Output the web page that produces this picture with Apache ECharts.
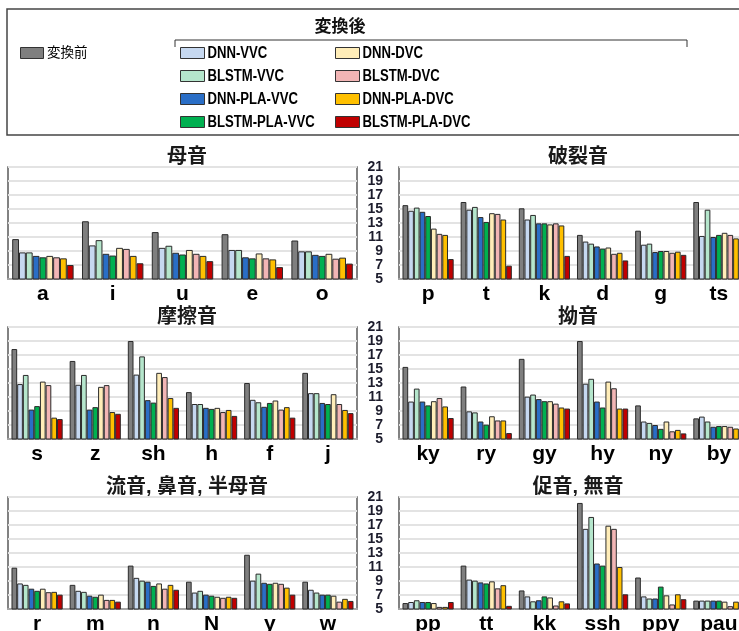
<!DOCTYPE html>
<html>
<head>
<meta charset="utf-8">
<script src="https://cdn.jsdelivr.net/npm/echarts@6/dist/echarts.min.js"></script>
<style>
  html, body { margin: 0; padding: 0; background: #ffffff; }
  #chart { width: 739px; height: 631px; }
</style>
</head>
<body>
<div id="chart"></div>
<script>
// Systems compared (row order of every value table below)
const seriesNames = ['変換前', 'DNN-VVC', 'BLSTM-VVC', 'DNN-PLA-VVC', 'BLSTM-PLA-VVC',
                     'DNN-DVC', 'BLSTM-DVC', 'DNN-PLA-DVC', 'BLSTM-PLA-DVC'];

// Y axis ticks (shared by all panels)
const yTicks = [5, 7, 9, 11, 13, 15, 17, 19, 21];

// 母音
const vowelCats = ['a', 'i', 'u', 'e', 'o'];
const vowelValues = [
  [10.7, 13.25, 11.7, 11.4, 10.5],
  [8.8, 9.8, 9.45, 9.15, 8.95],
  [8.8, 10.55, 9.75, 9.15, 8.95],
  [8.3, 8.6, 8.75, 8.1, 8.45],
  [8.1, 8.35, 8.5, 7.95, 8.3],
  [8.3, 9.45, 9.15, 8.65, 8.6],
  [8.1, 9.3, 8.6, 7.95, 7.9],
  [7.95, 8.3, 8.3, 7.8, 8.05],
  [7.0, 7.25, 7.55, 6.7, 7.2]
];

// 破裂音
const plosiveCats = ['p', 't', 'k', 'd', 'g', 'ts'];
const plosiveValues = [
  [15.55, 16.0, 15.1, 11.3, 11.9, 16.0],
  [14.75, 14.9, 13.5, 10.35, 9.9, 11.15],
  [15.2, 15.3, 14.15, 10.05, 10.05, 14.9],
  [14.6, 13.85, 12.95, 9.65, 8.85, 11.0],
  [14.0, 13.15, 12.95, 9.35, 9.0, 11.3],
  [12.2, 14.4, 12.8, 9.5, 9.0, 11.6],
  [11.45, 14.3, 12.95, 8.6, 8.75, 11.3],
  [11.3, 13.5, 12.65, 8.75, 8.9, 10.8],
  [7.85, 6.9, 8.3, 7.65, 8.45, 8.0]
];

// 摩擦音
const fricativeCats = ['s', 'z', 'sh', 'h', 'f', 'j'];
const fricativeValues = [
  [17.85, 16.15, 19.0, 11.7, 13.0, 14.45],
  [12.85, 12.75, 14.2, 10.0, 10.6, 11.55],
  [14.15, 14.15, 16.8, 10.0, 10.25, 11.55],
  [9.2, 9.2, 10.55, 9.45, 9.6, 10.15],
  [9.7, 9.55, 10.2, 9.3, 10.15, 10.0],
  [13.2, 12.45, 14.45, 9.45, 10.5, 11.4],
  [12.7, 12.7, 13.85, 8.85, 9.2, 10.0],
  [8.05, 8.85, 10.85, 9.15, 9.55, 9.15],
  [7.85, 8.6, 9.45, 8.3, 8.05, 8.7]
];

// 拗音
const palatalCats = ['ky', 'ry', 'gy', 'hy', 'ny', 'by'];
const palatalValues = [
  [15.3, 12.5, 16.45, 19.0, 9.8, 7.95],
  [10.35, 8.95, 11.05, 12.9, 7.5, 8.2],
  [12.2, 8.8, 11.35, 13.6, 7.3, 7.5],
  [10.35, 7.5, 10.7, 10.35, 7.0, 6.75],
  [9.8, 7.05, 10.4, 9.5, 6.45, 6.85],
  [10.4, 8.25, 10.4, 13.2, 7.5, 6.85],
  [10.85, 7.65, 10.05, 12.25, 6.1, 6.75],
  [9.65, 7.65, 9.5, 9.35, 6.3, 6.5],
  [8.0, 5.85, 9.35, 9.35, 5.8, 6.3]
];

// 流音, 鼻音, 半母音
const sonorantCats = ['r', 'm', 'n', 'N', 'y', 'w'];
const sonorantValues = [
  [10.9, 8.45, 11.2, 8.9, 12.75, 8.9],
  [8.65, 7.6, 9.45, 7.35, 9.05, 7.75],
  [8.45, 7.45, 9.05, 7.6, 10.05, 7.35],
  [7.9, 6.9, 8.9, 7.05, 8.75, 7.05],
  [7.6, 6.75, 8.3, 6.9, 8.6, 7.05],
  [7.9, 7.05, 8.65, 6.75, 8.75, 6.9],
  [7.4, 6.3, 7.9, 6.6, 8.6, 6.05],
  [7.45, 6.3, 8.45, 6.75, 8.05, 6.45],
  [7.05, 6.05, 7.75, 6.6, 7.05, 6.15]
];

// 促音, 無音
const geminateCats = ['pp', 'tt', 'kk', 'ssh', 'ppy', 'pau'];
const geminateValues = [
  [5.85, 11.2, 7.65, 20.15, 9.5, 6.2],
  [6.0, 9.2, 6.8, 16.45, 6.8, 6.2],
  [6.25, 9.05, 6.1, 18.15, 6.5, 6.2],
  [6.0, 8.8, 6.25, 11.5, 6.5, 6.2],
  [6.0, 8.65, 6.8, 11.2, 8.2, 6.2],
  [5.85, 8.95, 6.65, 16.9, 6.95, 6.05],
  [5.3, 7.95, 5.5, 16.45, 5.65, 5.4],
  [5.3, 8.4, 6.1, 11.0, 7.1, 6.05],
  [6.0, 5.45, 5.8, 7.1, 6.4, 5.9]
];

// ---- styling / layout ----
const seriesColors = ['#7f7f7f', '#c6d8f0', '#b5e6cc', '#2a6ec6', '#00b050',
                      '#ffedb8', '#f2b5b5', '#ffc000', '#c00000'];

// Right-hand panels run slightly past the canvas edge
const PW = 348, PH = 112;
const panels = [
  { title: '母音', cats: vowelCats, values: vowelValues, left: 8, top: 167, labels: false },
  { title: '破裂音', cats: plosiveCats, values: plosiveValues, left: 399, top: 167, labels: true },
  { title: '摩擦音', cats: fricativeCats, values: fricativeValues, left: 8, top: 327, labels: false },
  { title: '拗音', cats: palatalCats, values: palatalValues, left: 399, top: 327, labels: true },
  { title: '流音, 鼻音, 半母音', cats: sonorantCats, values: sonorantValues, left: 8, top: 497, labels: false },
  { title: '促音, 無音', cats: geminateCats, values: geminateValues, left: 399, top: 497, labels: true }
];

const latin = '"Liberation Sans", Arial, sans-serif';
const cjk = '"Liberation Sans", "Noto Sans CJK JP", sans-serif';

const grids = [], xAxes = [], yAxes = [], series = [], titles = [];
panels.forEach((p, i) => {
  grids.push({
    left: p.left, top: p.top, width: PW + (p.left > 100 ? 1 : 1), height: PH,
    outerBoundsMode: 'none', containLabel: false,
    show: true, borderColor: '#5a5a5a', borderWidth: 1.5, backgroundColor: '#ffffff'
  });
  titles.push({
    text: p.title, left: p.left + PW / 2, top: p.top - 25, textAlign: 'center',
    textStyle: { fontFamily: cjk, fontSize: 20, fontWeight: 'bold', color: '#1a1a1a' }
  });
  xAxes.push({
    type: 'category', gridIndex: i, data: p.cats,
    axisTick: { show: false },
    axisLine: { show: true, lineStyle: { color: '#a6a6a6', width: 2 } },
    axisLabel: { fontFamily: latin, fontSize: 21, fontWeight: 'bold', color: '#000', margin: 5 }
  });
  yAxes.push({
    type: 'value', gridIndex: i, min: yTicks[0], max: yTicks[yTicks.length - 1], interval: 2,
    axisLine: { show: false }, axisTick: { show: false },
    splitLine: { show: true, lineStyle: { color: '#e3e3e3', width: 2 } },
    axisLabel: {
      show: p.labels, fontFamily: latin, fontSize: 14, fontWeight: 'bold',
      color: '#1c1c2c', margin: 16, lineHeight: 10,
      showMinLabel: true, showMaxLabel: true, hideOverlap: false
    }
  });
  p.values.forEach((row, s) => {
    series.push({
      type: 'bar', name: seriesNames[s], xAxisIndex: i, yAxisIndex: i, data: row,
      barGap: '0%', barCategoryGap: '12%',
      itemStyle: { color: seriesColors[s], borderColor: '#2b2b2b', borderWidth: 1 },
      emphasis: { disabled: true }
    });
  });
});

// Legend drawn as swatches + condensed bold labels in two columns
const legendGraphics = [
  { type: 'rect', shape: { x: 7, y: 9, width: 780, height: 126 },
    style: { fill: 'none', stroke: '#454545', lineWidth: 1.5 }, z: 0 },
  { type: 'polyline', shape: { points: [[175, 47], [175, 40], [687, 40], [687, 47]] },
    style: { fill: 'none', stroke: '#333', lineWidth: 1 } },
  { type: 'text', x: 340, y: 27,
    style: { text: '変換後', fontFamily: cjk, fontSize: 17, fontWeight: 'bold',
             fill: '#111', align: 'center', verticalAlign: 'middle' } },
  { type: 'rect', shape: { x: 20.5, y: 47.5, width: 23, height: 11 },
    style: { fill: seriesColors[0], stroke: '#333', lineWidth: 1 } },
  { type: 'text', x: 47, y: 53,
    style: { text: seriesNames[0], fontFamily: cjk, fontSize: 13.5, fill: '#000',
             align: 'left', verticalAlign: 'middle' } }
];
for (let s = 1; s < seriesNames.length; s++) {
  const col = Math.floor((s - 1) / 4), row = (s - 1) % 4;
  const x = col ? 335.5 : 180.5;
  const y = 53 + row * 23;
  legendGraphics.push({
    type: 'rect', shape: { x: x, y: y - 5.5, width: 24, height: 11 },
    style: { fill: seriesColors[s], stroke: '#333', lineWidth: 1 }
  });
  legendGraphics.push({
    type: 'text', x: x + 27, y: y + 0.5, scaleX: 0.82,
    style: { text: seriesNames[s], fontFamily: latin, fontSize: 16, fontWeight: 'bold',
             fill: '#000', align: 'left', verticalAlign: 'middle' }
  });
}

const option = {
  animation: false,
  backgroundColor: '#ffffff',
  title: titles,
  graphic: legendGraphics,
  grid: grids,
  xAxis: xAxes,
  yAxis: yAxes,
  series: series
};

const chart = echarts.init(document.getElementById('chart'), null, { renderer: 'canvas' });
chart.setOption(option);
</script>
</body>
</html>
